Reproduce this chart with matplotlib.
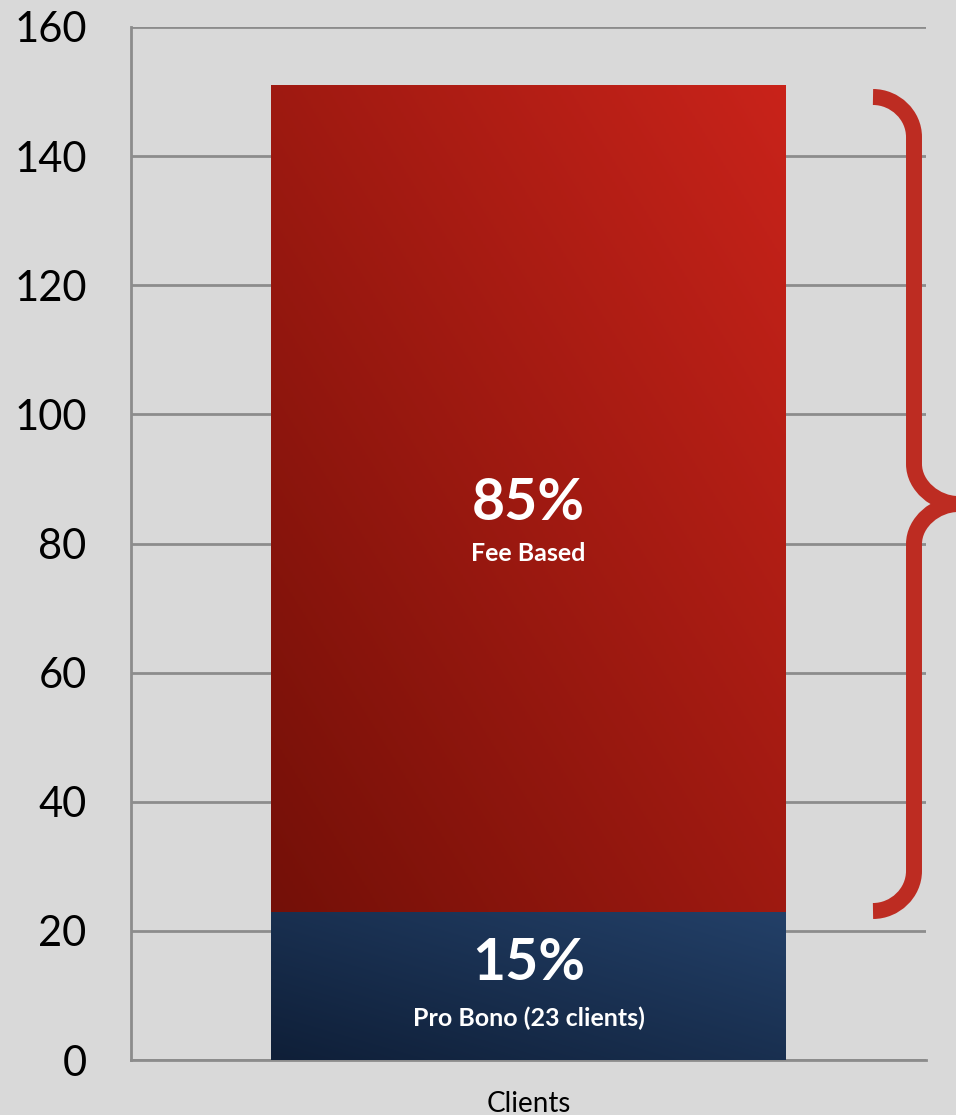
import numpy as np
import matplotlib
matplotlib.use("Agg")
import matplotlib.pyplot as plt
from matplotlib.path import Path
from matplotlib.patches import PathPatch
from matplotlib.colors import LinearSegmentedColormap

# ---- data ----
category = ["Clients"]
pro_bono = [23]
fee_based = [128]
pct_labels = ["15%", "85%"]
seg_names = ["Pro Bono (23 clients)", "Fee Based"]
yticks = [0, 20, 40, 60, 80, 100, 120, 140, 160]

W, H = 956, 1115
fig = plt.figure(figsize=(W / 100, H / 100), dpi=100)
bg = "#d9d9d9"
fig.patch.set_facecolor(bg)
ax = fig.add_axes([131 / W, 1 - 1060 / H, (926 - 131) / W, (1060 - 27) / H])
ax.set_facecolor(bg)
ax.set_xlim(-0.5, 0.5)
ax.set_ylim(0, 160)
ax.set_yticks(yticks)
ax.set_yticklabels([str(t) for t in yticks], fontsize=30, family="Lato")
ax.set_xticks([0])
ax.set_xticklabels(category, fontsize=20, family="Lato")
ax.tick_params(axis="y", length=0, pad=32)
ax.tick_params(axis="x", length=0, pad=22)
ax.grid(axis="y", color="#8c8c8c", linewidth=2)
ax.set_axisbelow(True)
for s in ["top", "right"]:
    ax.spines[s].set_visible(False)
for s in ["left", "bottom"]:
    ax.spines[s].set_color("#8c8c8c")
    ax.spines[s].set_linewidth(2)

bw = 0.647
b1 = ax.bar(category, pro_bono, width=bw, color="#1c3556", zorder=2)
b2 = ax.bar(category, fee_based, bottom=pro_bono, width=bw, color="#a01a12", zorder=2)

def gradient_fill(patch, c0, c1):
    x0, y0 = patch.get_x(), patch.get_y()
    w, h = patch.get_width(), patch.get_height()
    n = 200
    xx, yy = np.meshgrid(np.linspace(0, 1, n), np.linspace(0, 1, n))
    g = (xx + yy) / 2
    cmap = LinearSegmentedColormap.from_list("g", [c0, c1])
    im = ax.imshow(g, cmap=cmap, extent=[x0, x0 + w, y0, y0 + h], origin="lower",
                   aspect="auto", zorder=3, interpolation="bilinear")
    im.set_clip_path(patch)
    ax.set_xlim(-0.5, 0.5)
    ax.set_ylim(0, 160)

gradient_fill(b1[0], "#0f1f38", "#234068")
gradient_fill(b2[0], "#741008", "#c9231a")

# labels
y_pb = pro_bono[0] / 2
ax.text(0, y_pb + 3.5, pct_labels[0], ha="center", va="center", color="white",
        fontsize=41, fontweight="bold", family="Lato", zorder=5)
ax.text(0, y_pb - 5.0, seg_names[0], ha="center", va="center", color="white",
        fontsize=18, fontweight="bold", family="Lato", zorder=5)
y_fb = pro_bono[0] + fee_based[0] / 2
ax.text(0, y_fb - 0.8, pct_labels[1], ha="center", va="center", color="white",
        fontsize=41, fontweight="bold", family="Lato", zorder=5)
ax.text(0, y_fb - 8.6, seg_names[1], ha="center", va="center", color="white",
        fontsize=18, fontweight="bold", family="Lato", zorder=5)

# brace (overlay in pixel coordinates)
ov = fig.add_axes([0, 0, 1, 1])
ov.set_xlim(0, W)
ov.set_ylim(H, 0)
ov.axis("off")
ov.patch.set_alpha(0)
xl, xv, xt = 873, 914, 958
yt, yb = 97, 911
ym = (yt + yb) / 2
r = 40
k = 0.55
verts = [
    (xl, yt),
    (xl + r * k, yt), (xv, yt + r - r * k), (xv, yt + r),
    (xv, ym - r),
    (xv, ym - r + r * k), (xt - r * k, ym), (xt, ym),
]
codes = [Path.MOVETO, Path.CURVE4, Path.CURVE4, Path.CURVE4, Path.LINETO,
         Path.CURVE4, Path.CURVE4, Path.CURVE4]
verts2 = [
    (xl, yb),
    (xl + r * k, yb), (xv, yb - r + r * k), (xv, yb - r),
    (xv, ym + r),
    (xv, ym + r - r * k), (xt - r * k, ym), (xt, ym),
]
brace_color = "#bd2c22"
for v in (verts, verts2):
    ov.add_patch(PathPatch(Path(v, codes), fill=False, edgecolor=brace_color,
                           linewidth=11.5, capstyle="butt", joinstyle="round"))

fig.savefig("out.png", dpi=100, facecolor=bg)
